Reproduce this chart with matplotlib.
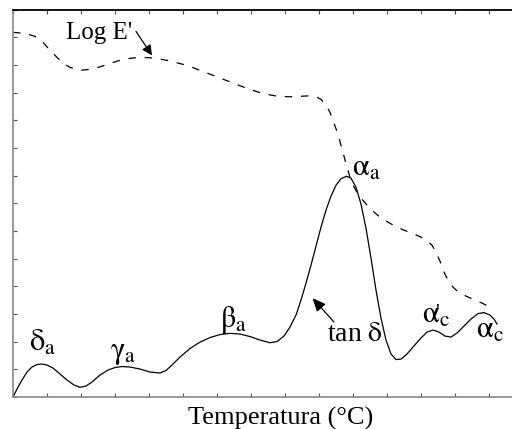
import numpy as np
import matplotlib.pyplot as plt

plt.rcParams['font.family'] = ['Liberation Serif', 'DejaVu Serif']
plt.rcParams['mathtext.fontset'] = 'stix'

# values (pixel readings -> data units)
# x unit = one tick step, y unit = one left tick step
tan_px = [13, 17, 22, 27, 32, 37, 42, 47, 53, 60, 67, 74, 80, 86, 92, 100, 108, 115,
          122, 130, 140, 150, 160, 166, 172, 180, 190, 200, 210, 220, 230, 240, 250,
          260, 270, 277, 284, 290, 296, 301, 306, 311, 316, 321, 326, 331, 336, 341,
          346.7, 351, 356, 361, 366, 371, 376, 381, 386, 391, 396, 401, 407, 413, 420,
          427, 433, 439, 445, 451, 457, 464, 471, 478, 484, 490, 494, 497]
tan_py = [397, 389, 380, 372, 367, 364.5, 364, 365, 368, 374, 380, 385, 387.3, 386, 382,
          375, 370, 367.5, 366.5, 367, 369, 372, 373, 370.5, 365, 357, 348.5, 342, 337.5,
          334.5, 333.3, 334, 336.5, 340, 342.7, 341.5, 336, 327, 315, 300, 283, 265, 246,
          227, 210, 196, 185, 178.5, 176, 178, 187, 204, 228, 258, 290, 318, 340, 354,
          359.5, 359, 354, 347, 339, 332, 330, 332, 336, 337, 333, 326, 319, 313.5,
          312.5, 315, 319, 324]

loge_px = [13, 25, 35, 43, 50, 57, 63, 70, 80, 90, 100, 110, 120, 130, 140, 148, 156,
           167, 177, 187, 200, 213, 226, 240, 253, 263, 275, 289, 300, 310, 316, 321,
           326, 330, 334, 338, 341, 344, 347, 350, 353, 357, 362, 367, 373, 380, 388,
           396, 404, 412, 420, 427, 432, 436, 440, 444, 448, 453, 459, 466, 474, 482,
           490, 493]
loge_py = [32, 33, 36, 42, 50, 57, 63, 67, 70, 69, 66.5, 63, 60, 58, 57, 57.3, 58, 60,
           62.5, 65, 70, 75, 80, 85.5, 90, 93.3, 95.5, 96.5, 96, 95.5, 96.5, 99, 105,
           112, 123, 134, 145, 156, 167, 177, 185, 192, 199, 205, 211, 217, 222, 226.5,
           230, 233, 236.5, 240.5, 245, 252, 261, 272, 280, 287, 292.5, 296, 299.5,
           303, 307, 309]

def to_x(px):
    return (np.asarray(px, dtype=float) - 13) / 34.0

def to_y(py):
    return (397 - np.asarray(py, dtype=float)) / 27.7

tan_x, tan_y = to_x(tan_px), to_y(tan_py)
loge_x, loge_y = to_x(loge_px), to_y(loge_py)

# peak labels: (text, px, baseline py)
peak_labels = [
    (r'$\mathrm{\delta}_\mathrm{a}$', 29, 351),
    (r'$\mathrm{\gamma}_\mathrm{a}$', 110, 358),
    (r'$\mathrm{\beta}_\mathrm{a}$', 220, 327),
    (r'$\mathrm{\alpha}_\mathrm{a}$', 352, 176),
    (r'$\mathrm{\alpha}_\mathrm{c}$', 422, 323),
    (r'$\mathrm{\alpha}_\mathrm{c}$', 476, 338),
]

fig = plt.figure(figsize=(5.12, 4.29), dpi=100)
ax = fig.add_axes([13 / 512, (429 - 397) / 429, 1 - 13 / 512, 387.4 / 429])

ax.plot(tan_x, tan_y, color='black', lw=0.9)
line, = ax.plot(loge_x, loge_y, color='black', lw=0.9)
line.set_dashes([6, 7])

ax.set_xlim(0, 499 / 34.0)
ax.set_ylim(0, 14)
ax.set_xticks(np.arange(0, 15))
ax.set_yticks(np.arange(0, 15))
ax.tick_params(direction='in', length=3, width=0.8, colors='#555555',
               labelbottom=False, labelleft=False, top=True)
ax.spines['right'].set_visible(False)
ax.spines['top'].set_color('black')
ax.spines['top'].set_linewidth(1.3)
for s in ['left', 'bottom']:
    ax.spines[s].set_color('#888888')
    ax.spines[s].set_linewidth(1.2)

for txt, px, py in peak_labels:
    ax.text(to_x(px), to_y(py), txt, fontsize=22, ha='left', va='baseline')
# prime on alpha'_c
ax.text(to_x(435.5), to_y(318), "'", fontsize=15, ha='left', va='baseline')

ax.text(to_x(66), to_y(39), "Log E'", fontsize=18, ha='left', va='baseline')
ax.text(to_x(327), to_y(341), r'tan $\mathrm{\delta}$', fontsize=20, ha='left', va='baseline')

ax.annotate('', xy=(to_x(152), to_y(55)), xytext=(to_x(136), to_y(31)),
            arrowprops=dict(arrowstyle='-|>,head_length=0.6,head_width=0.3',
                            color='black', lw=0.9, shrinkA=0, shrinkB=0))
ax.annotate('', xy=(to_x(312.5), to_y(298)), xytext=(to_x(334), to_y(322)),
            arrowprops=dict(arrowstyle='-|>,head_length=0.8,head_width=0.35',
                            color='black', lw=0.9, shrinkA=0, shrinkB=0))

fig.text(281 / 512, (429 - 425) / 429, 'Temperatura (°C)', fontsize=19,
         ha='center', va='baseline')

fig.savefig('out.png', dpi=100)
